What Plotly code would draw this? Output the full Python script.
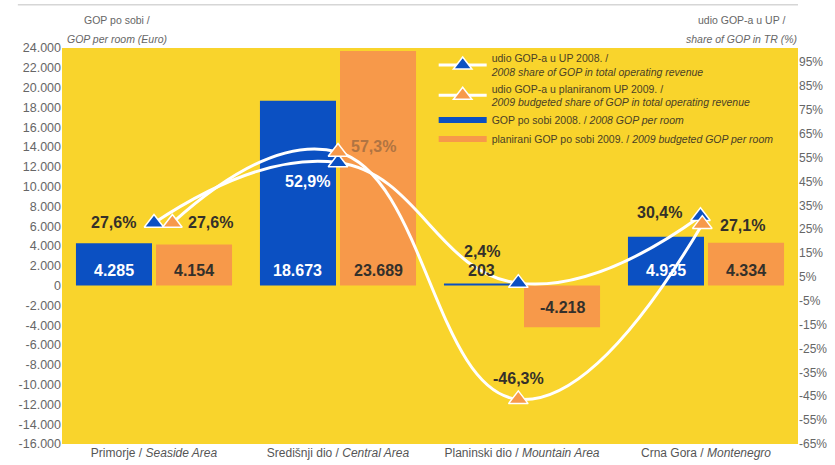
import plotly.graph_objects as go

# ---- data ----
categories = [
    "Primorje / <i>Seaside Area</i>",
    "Središnji dio / <i>Central Area</i>",
    "Planinski dio / <i>Mountain Area</i>",
    "Crna Gora / <i>Montenegro</i>",
]
gop_room_2008 = [4285, 18673, 203, 4935]
gop_room_2009 = [4154, 23689, -4218, 4334]
share_2008 = [27.6, 52.9, 2.4, 30.4]
share_2009 = [27.6, 57.3, -46.3, 27.1]

left_ticks = list(range(-16000, 24001, 2000))
right_ticks = list(range(-65, 96, 10))

# ---- styling ----
BLUE = "#0b50c2"
ORANGE = "#f7994a"
YELLOW = "#f9d42c"
DARK = "#34302a"
GRAY = "#666666"
FONT = "Liberation Sans, Arial, sans-serif"
NARROW = "Liberation Sans Narrow, Arial Narrow, sans-serif"
BARGAP = 0.13

# small horizontal nudges of the triangles around the category centre
tri_dx_2008 = [0.0, 0.0, -0.02, -0.03]
tri_dx_2009 = [0.10, 0.0, -0.02, -0.02]


def fmt_thousands(v):
    return f"{v:,}".replace(",", ".")


def fmt_pct(v):
    return f"{v:.1f}".replace(".", ",") + "%"


x_idx = list(range(len(categories)))

fig = go.Figure()

fig.add_trace(go.Bar(x=x_idx, y=gop_room_2008, marker_color=BLUE,
                     marker_line_width=0, showlegend=False, hoverinfo="skip"))
fig.add_trace(go.Bar(x=x_idx, y=gop_room_2009, marker_color=ORANGE,
                     marker_line_width=0, showlegend=False, hoverinfo="skip"))

# share of GOP curves on the right axis
fig.add_trace(go.Scatter(
    x=[i + d for i, d in zip(x_idx, tri_dx_2008)], y=share_2008, yaxis="y2",
    mode="lines+markers", line=dict(color="white", width=3, shape="spline", smoothing=1.3),
    marker=dict(symbol="triangle-up", size=17, color=BLUE, line=dict(color="white", width=1.5)),
    name="udio GOP-a u UP 2008. /<br><i>2008 share of GOP in total operating revenue</i>",
    legendrank=1, hoverinfo="skip"))
fig.add_trace(go.Scatter(
    x=[i + d for i, d in zip(x_idx, tri_dx_2009)], y=share_2009, yaxis="y2",
    mode="lines+markers", line=dict(color="white", width=3, shape="spline", smoothing=1.3),
    marker=dict(symbol="triangle-up", size=17, color=ORANGE, line=dict(color="white", width=1.5)),
    name="udio GOP-a u planiranom UP 2009. /<br><i>2009 budgeted share of GOP in total operating revenue</i>",
    legendrank=2, hoverinfo="skip"))

# legend keys for the bars (thick strokes)
fig.add_trace(go.Scatter(x=[None], y=[None], mode="lines", line=dict(color=BLUE, width=6),
                         name="GOP po sobi 2008. / <i>2008 GOP per room</i>", legendrank=3))
fig.add_trace(go.Scatter(x=[None], y=[None], mode="lines", line=dict(color=ORANGE, width=6),
                         name="planirani GOP po sobi 2009. / <i>2009 budgeted GOP per room</i>",
                         legendrank=4))

annotations = []

# bar value labels
off = (1 - BARGAP) / 4
for vals, dx, col_in in ((gop_room_2008, -off, "white"), (gop_room_2009, off, DARK)):
    for i, v in enumerate(vals):
        small = abs(v) < 1000
        color = DARK if small else col_in
        annotations.append(dict(
            x=i + dx, y=0, xref="x", yref="y", text=f"<b>{fmt_thousands(v)}</b>",
            showarrow=False, yshift=15 if v >= 0 else -22,
            font=dict(family=FONT, size=16, color=color)))

# share labels, placed around each triangle
share_label_pos_2008 = [
    dict(xanchor="right", xshift=-16, yshift=0, color=DARK),
    dict(xanchor="right", xshift=-6, yshift=-19, color="white"),
    dict(xanchor="center", xshift=-36, yshift=32, color=DARK),
    dict(xanchor="right", xshift=-16, yshift=4, color=DARK),
]
share_label_pos_2009 = [
    dict(xanchor="left", xshift=14, yshift=0, color=DARK),
    dict(xanchor="left", xshift=11, yshift=6, color="#b07442"),
    dict(xanchor="center", xshift=0, yshift=21, color=DARK),
    dict(xanchor="left", xshift=16, yshift=-1, color=DARK),
]
for vals, dxs, pos in ((share_2008, tri_dx_2008, share_label_pos_2008),
                       (share_2009, tri_dx_2009, share_label_pos_2009)):
    for i, v in enumerate(vals):
        p = pos[i]
        annotations.append(dict(
            x=i + dxs[i], y=v, xref="x", yref="y2", text=f"<b>{fmt_pct(v)}</b>",
            showarrow=False, xanchor=p["xanchor"], xshift=p["xshift"], yshift=p["yshift"],
            font=dict(family=FONT, size=16, color=p["color"])))

# axis titles
for txt, x, y in (("GOP po sobi /", 0.075, 1.071), ("<i>GOP per room (Euro)</i>", 0.075, 1.023),
                  ("udio GOP-a u UP /", 0.923, 1.071), ("<i>share of GOP in TR (%)</i>", 0.923, 1.023)):
    annotations.append(dict(x=x, y=y, xref="paper", yref="paper", text=txt, showarrow=False,
                            xanchor="center", yanchor="middle",
                            font=dict(family=FONT, size=10.5, color=GRAY)))

fig.update_layout(
    width=835, height=465,
    margin=dict(l=62, r=37, t=48, b=21),
    paper_bgcolor="white", plot_bgcolor=YELLOW,
    barmode="group", bargap=BARGAP, bargroupgap=0.05,
    showlegend=True,
    legend=dict(x=0.505, y=1.008, xanchor="left", yanchor="top", bgcolor="rgba(0,0,0,0)",
                font=dict(family=FONT, size=10.5, color="#4a3f26"), tracegroupgap=0,
                itemwidth=48),
    xaxis=dict(range=[-0.5, 3.5], tickvals=x_idx, ticktext=categories, showgrid=False,
               zeroline=False, ticks="", automargin=False,
               tickfont=dict(family=NARROW, size=12, color="#555555")),
    yaxis=dict(range=[-16000, 24000], tickvals=left_ticks,
               ticktext=[fmt_thousands(t) for t in left_ticks], showgrid=False, zeroline=False,
               ticks="", automargin=False, tickfont=dict(family=FONT, size=12.5, color=GRAY)),
    yaxis2=dict(range=[-65, 100.9], overlaying="y", side="right", tickvals=right_ticks,
                ticktext=[f"{t}%" for t in right_ticks], showgrid=False, zeroline=False,
                ticks="", automargin=False, tickfont=dict(family=FONT, size=12, color=GRAY)),
    annotations=annotations,
    shapes=[dict(type="line", xref="paper", yref="paper", x0=-0.06, x1=1.0, y0=1.109, y1=1.109,
                 line=dict(color="#d6d6d6", width=1.5))],
)

fig.write_html("out.html")
